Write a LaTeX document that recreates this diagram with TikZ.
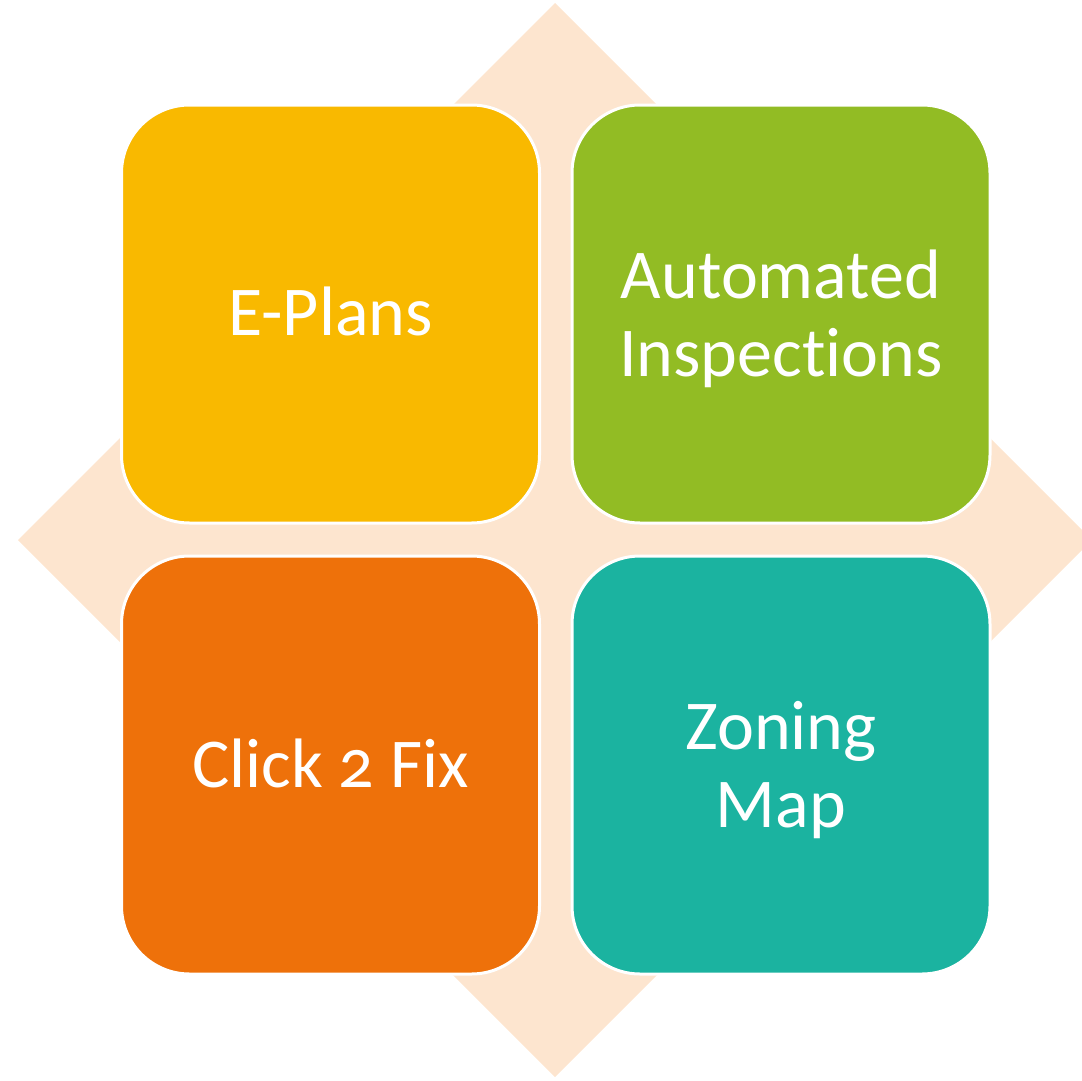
\documentclass[tikz,border=0pt]{standalone}
\usepackage{fontspec}
\setmainfont[Numbers=OldStyle,Ligatures=NoCommon]{Carlito}
\definecolor{peach}{HTML}{FDE5CF}
\definecolor{cyellow}{HTML}{F9B900}
\definecolor{cgreen}{HTML}{92BC24}
\definecolor{corange}{HTML}{EE710A}
\definecolor{cteal}{HTML}{1BB3A0}
\begin{document}
\begin{tikzpicture}[x=1pt,y=-1pt,
  tile/.style={draw=white, line width=3pt, rounded corners=68pt,
    minimum width=418pt, minimum height=418pt, inner sep=0pt,
    text=white, align=center, font=\fontsize{70}{78}\selectfont}]
\useasboundingbox (0,0) rectangle (1082,1081);
\clip (0,0) rectangle (1082,1081);
\fill[peach] (555,3) -- (1092,540) -- (555,1077) -- (18,540) -- cycle;
\node[tile, fill=cyellow] (eplans) at (330.5,314) {};
\node[tile, fill=cgreen] (auto) at (781,314) {};
\node[tile, fill=corange] (click) at (330.5,765) {};
\node[tile, fill=cteal] (zoning) at (781,765) {};
\node[text=white, font=\fontsize{70}{78}\selectfont, align=center] (t1) at ([yshift=3pt]eplans.center) {E-Plans};
\node[text=white, font=\fontsize{70}{78}\selectfont, align=center] (t2) at ([yshift=-5pt]auto.center) {Automated\\Inspections};
\node[text=white, font=\fontsize{70}{78}\selectfont, align=center] (t3) at ([yshift=2pt]click.center) {Click 2 Fix};
\node[text=white, font=\fontsize{70}{78}\selectfont, align=center] (t4) at ([yshift=-5pt]zoning.center) {Zoning\\Map};
\end{tikzpicture}
\end{document}
